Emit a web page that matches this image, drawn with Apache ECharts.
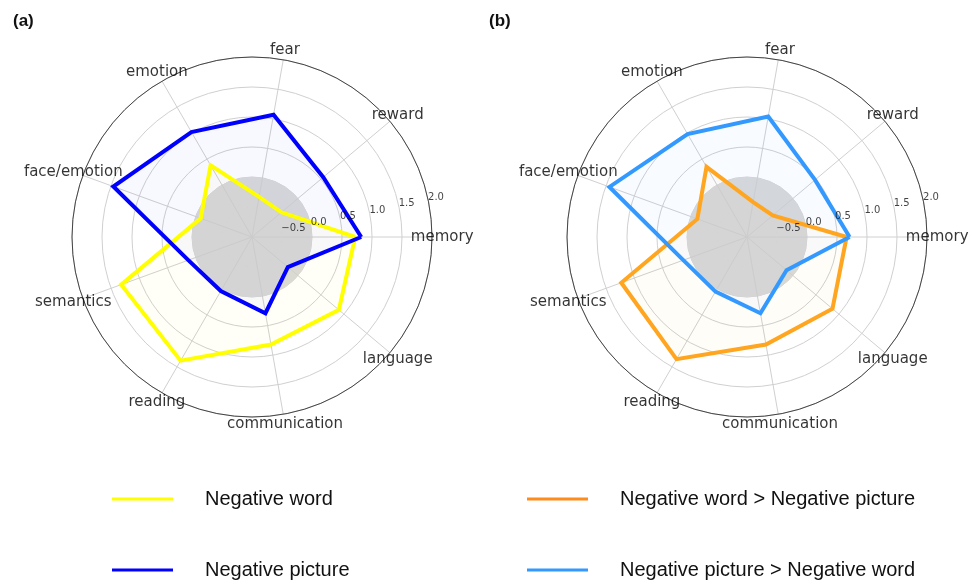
<!DOCTYPE html>
<html lang="en">

<head>
  <meta charset="UTF-8">
  <title>Radar</title>
  <style>
    body { margin: 0; background: #fff; }
  </style>
</head>

<body>
  <div id="main" style="width: 972px;height: 585px;"></div>
</body>
<script src="https://cdn.jsdelivr.net/npm/echarts@6/dist/echarts.min.js"></script>
<script>
  var categories = ['memory', 'reward', 'fear', 'emotion', 'face/emotion', 'semantics', 'reading', 'communication', 'language'];
  // panel (a)
  var negWord = [0.72, -0.36, -0.32, 0.38, -0.09, 1.32, 1.38, 0.82, 0.89];
  var negPicture = [0.82, 0.55, 1.07, 1.02, 1.46, 0.13, 0.04, 0.29, -0.22];
  // panel (b)
  var wordGtPicture = [0.66, -0.44, -0.41, 0.35, -0.12, 1.23, 1.35, 0.82, 0.86];
  var pictureGtWord = [0.71, 0.48, 1.04, 0.98, 1.44, 0.13, 0.05, 0.29, -0.14];
  // radial ticks
  var tickValues = [-0.5, 0.0, 0.5, 1.0, 1.5, 2.0];
  var tickLabels = ['\u22120.5', '0.0', '0.5', '1.0', '1.5', '2.0'];

  var rMin = -1, rMax = 2, rStep = 0.5;
  var labelR = 2.17;   // where the category names sit
  var tickAngle = 12;  // direction of the radial tick labels
  var step = 360 / categories.length;

  var chartDom = document.getElementById('main');
  var myChart = echarts.init(chartDom);

  // close the polygon by repeating the first point at 360
  function closed(vals) {
    var out = vals.map(function (v, i) { return [v, i * step]; });
    out.push([vals[0], 360]);
    return out;
  }

  function radarLine(name, vals, color, fill, idx) {
    return {
      name: name,
      type: 'line',
      coordinateSystem: 'polar',
      polarIndex: idx,
      data: closed(vals),
      symbol: 'none',
      color: color,
      lineStyle: { color: color, width: 4, join: 'miter' },
      areaStyle: { color: fill, origin: 'start' },
      z: 3
    };
  }

  function nameLabels(idx) {
    return {
      type: 'scatter',
      coordinateSystem: 'polar',
      polarIndex: idx,
      silent: true,
      clip: false,
      symbolSize: 0,
      data: categories.map(function (c, i) { return [labelR, i * step]; }),
      label: {
        show: true,
        position: 'inside',
        color: '#000',
        textBorderWidth: 0,
        fontSize: 15,
        fontFamily: 'DejaVu Sans',
        formatter: function (p) { return categories[p.dataIndex]; }
      },
      z: 5
    };
  }

  function tickLabelSeries(idx) {
    return {
      type: 'scatter',
      coordinateSystem: 'polar',
      polarIndex: idx,
      silent: true,
      clip: false,
      symbolSize: 0,
      data: tickValues.map(function (v) { return [v, tickAngle]; }),
      label: {
        show: true,
        position: 'right',
        distance: 0,
        offset: [0, -2],
        color: '#111',
        textBorderWidth: 0,
        fontSize: 10,
        fontFamily: 'DejaVu Sans',
        formatter: function (p) { return tickLabels[p.dataIndex]; }
      },
      z: 4
    };
  }

  function angleAx(idx) {
    return {
      polarIndex: idx,
      type: 'value',
      min: 0,
      max: 360,
      interval: step,
      startAngle: 0,
      clockwise: false,
      axisLine: { show: true, lineStyle: { color: '#444', width: 1 } },
      axisTick: { show: false },
      axisLabel: { show: false },
      splitLine: { show: true, lineStyle: { color: '#d0d0d0', width: 1 } }
    };
  }

  function radiusAx(idx) {
    return {
      polarIndex: idx,
      type: 'value',
      min: rMin,
      max: rMax,
      interval: rStep,
      axisLine: { show: false },
      axisTick: { show: false },
      axisLabel: { show: false },
      splitLine: { show: true, lineStyle: { color: '#d0d0d0', width: 1 } },
      splitArea: {
        show: true,
        areaStyle: { color: ['#d9d9d9', '#d9d9d9', 'rgba(0,0,0,0)', 'rgba(0,0,0,0)', 'rgba(0,0,0,0)', 'rgba(0,0,0,0)'] }
      }
    };
  }

  function legendItem(name, color, left, top) {
    return {
      left: left,
      top: top,
      icon: 'rect',
      itemWidth: 61,
      itemHeight: 3,
      textStyle: { fontSize: 20, color: '#111', fontFamily: 'Liberation Sans', padding: [0, 0, 0, 27] },
      data: [{ name: name, itemStyle: { color: color } }]
    };
  }

  var option = {
    animation: false,
    backgroundColor: '#fff',
    title: [
      { text: '(a)', left: 8, top: 8, textStyle: { fontSize: 17, fontWeight: 'bold', color: '#111', fontFamily: 'Liberation Sans' } },
      { text: '(b)', left: 484, top: 8, textStyle: { fontSize: 17, fontWeight: 'bold', color: '#111', fontFamily: 'Liberation Sans' } }
    ],
    legend: [
      legendItem('Negative word', '#ffff00', 107, 484),
      legendItem('Negative picture', '#0000ff', 107, 555),
      legendItem('Negative word > Negative picture', '#ff8c1a', 522, 484),
      legendItem('Negative picture > Negative word', '#3399ff', 522, 555)
    ],
    polar: [
      { center: [252, 237], radius: [0, 180] },
      { center: [747, 237], radius: [0, 180] }
    ],
    angleAxis: [angleAx(0), angleAx(1)],
    radiusAxis: [radiusAx(0), radiusAx(1)],
    series: [
      radarLine('Negative word', negWord, '#ffff00', 'rgba(255,255,0,0.04)', 0),
      radarLine('Negative picture', negPicture, '#0000ff', 'rgba(0,0,255,0.04)', 0),
      radarLine('Negative word > Negative picture', wordGtPicture, '#ffa51f', 'rgba(255,165,0,0.04)', 1),
      radarLine('Negative picture > Negative word', pictureGtWord, '#3399ff', 'rgba(51,153,255,0.05)', 1),
      nameLabels(0),
      nameLabels(1),
      tickLabelSeries(0),
      tickLabelSeries(1)
    ]
  };

  option && myChart.setOption(option);
</script>

</html>
